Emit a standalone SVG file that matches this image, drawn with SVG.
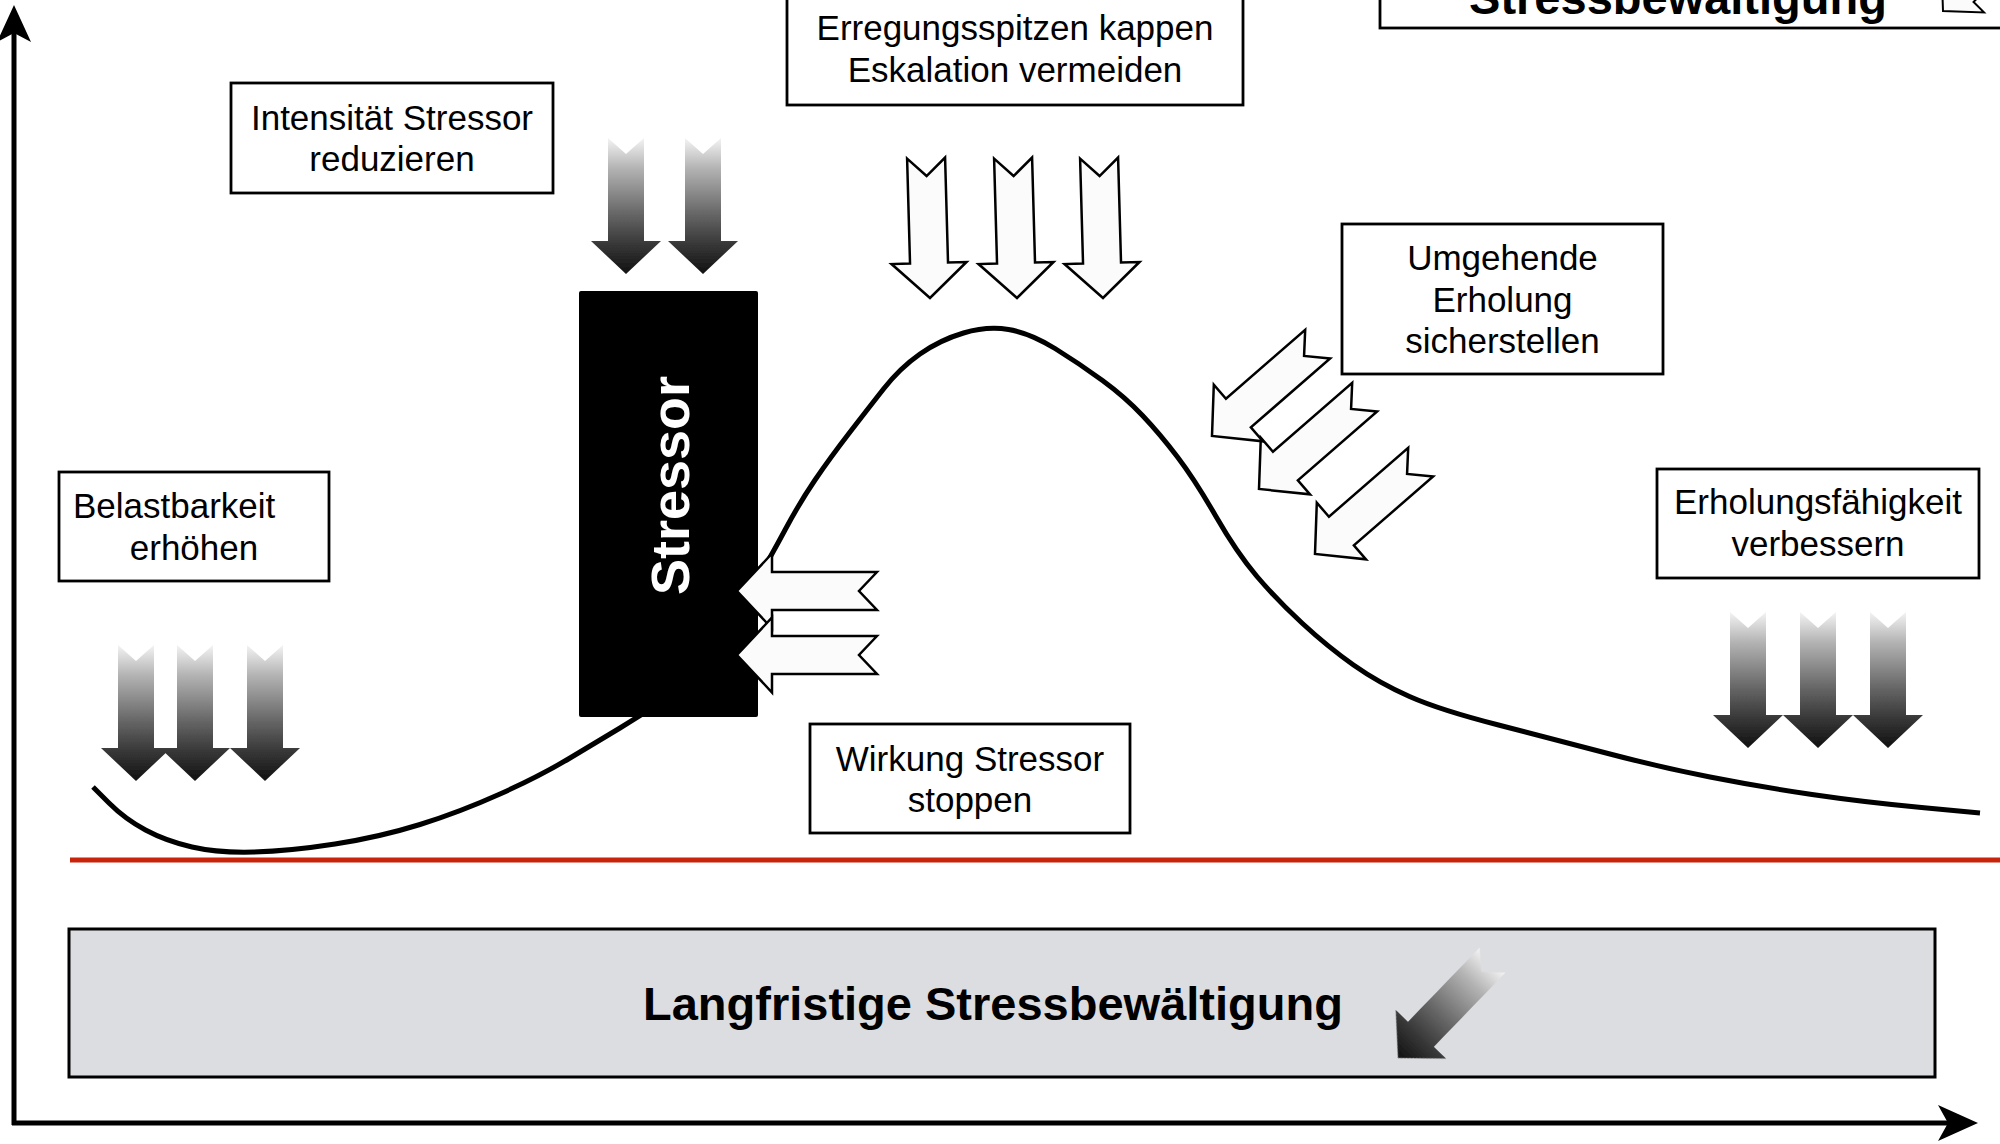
<svg xmlns="http://www.w3.org/2000/svg" width="2000" height="1144" viewBox="0 0 2000 1144">
<defs>
<style>
.box{fill:#fff;stroke:#000;stroke-width:2.8}
.lbl{font-family:"Liberation Sans",Arial,Helvetica,sans-serif;font-size:35px;fill:#000}
.c{text-anchor:middle}
.big{font-family:"Liberation Sans",Arial,Helvetica,sans-serif;font-size:47px;font-weight:bold;fill:#000}
.warr{fill:#fbfbfb;stroke:#000;stroke-width:2.5;stroke-linejoin:miter}
.garr{filter:url(#soft)}
.axis{stroke:#000;stroke-width:5;fill:none}
.curve{fill:none;stroke:#000;stroke-width:5;stroke-linejoin:round}
</style>
<linearGradient id="gd" x1="0" y1="0" x2="0" y2="1">
<stop offset="0" stop-color="#f4f4f4"/>
<stop offset="0.22" stop-color="#b4b4b4"/>
<stop offset="0.55" stop-color="#686868"/>
<stop offset="0.78" stop-color="#383838"/>
<stop offset="1" stop-color="#111"/>
</linearGradient>
<filter id="soft" x="-10%" y="-10%" width="120%" height="120%"><feGaussianBlur stdDeviation="0.7"/></filter>
<path id="ga" d="M-18,-136 L0,-120 L18,-136 L18,-33 L35,-33 L0,0 L-35,-33 L-18,-33 Z" fill="url(#gd)"/>
<path id="wa" d="M-19,-140 L0,-122 L19,-140 L19,-35 L37.5,-35 L0,0 L-37.5,-35 L-19,-35 Z"/>
</defs>

<rect width="2000" height="1144" fill="#fff"/>

<!-- connectors: axes, baseline, stress curve -->
<g id="connectors">
<line class="axis" x1="14" y1="30" x2="14" y2="1125"/>
<polygon points="14,5 31,42 14,33 -3,42" fill="#000"/>
<line class="axis" x1="12" y1="1123" x2="1955" y2="1123"/>
<polygon points="1978,1123 1938,1105 1948,1123 1938,1141" fill="#000"/>
<line x1="70" y1="860" x2="2000" y2="860" stroke="#c8240c" stroke-width="5"/>
<path class="curve" d="M93,787 L109,803 Q125,819 145.5,830 Q166,841 192,847 Q218,853 254,852 Q290,851 335,844 Q380,837 420,824.5 Q460,812 500,794 Q540,776 570,758 Q600,740 620,728 L665,700"/>
<path class="curve" d="M745,600 L757.5,579 Q770,558 785,530 Q800,502 815,480 Q830,458 848.5,434 Q867,410 883.5,389 Q900,368 920,354 Q940,340 963.5,333 Q987,326 1008.5,329.5 Q1030,333 1055,348.5 Q1080,364 1102.5,380.5 Q1125,397 1142.5,415.5 Q1160,434 1177.5,457 Q1195,480 1216,516.5 Q1237,553 1257,576.5 Q1277,600 1302.5,623.5 Q1328,647 1353.5,665 Q1379,683 1409.5,696.5 Q1440,710 1498.5,725 Q1557,740 1608,753.5 Q1659,767 1710,777 Q1761,787 1812,794.5 Q1863,802 1921.5,807.5 L1980,813"/>
</g>

<g id="top-box">
<rect class="box" x="1380" y="-60" width="640" height="88"/>
<text class="big c" x="1678" y="14">Stressbewältigung</text>
<use href="#wa" class="warr" transform="translate(1943,11) rotate(45) scale(0.8)"/>
</g>

<g id="stressor">
<rect x="579" y="291" width="179" height="426" rx="2" fill="#000"/>
<text class="big" transform="translate(689,485.5) rotate(-90)" text-anchor="middle" style="font-size:54px;fill:#fff">Stressor</text>
</g>

<g id="intensitaet">
<rect class="box" x="231" y="83" width="322" height="110"/>
<text class="lbl c" x="392" y="130">Intensität Stressor</text>
<text class="lbl c" x="392" y="171">reduzieren</text>
</g>
<g id="intensitaet-arrows" class="garr">
<use href="#ga" transform="translate(626,274)"/>
<use href="#ga" transform="translate(703,274)"/>
</g>

<g id="erregung">
<rect class="box" x="787" y="-10" width="456" height="115"/>
<text class="lbl c" x="1015" y="40">Erregungsspitzen kappen</text>
<text class="lbl c" x="1015" y="82">Eskalation vermeiden</text>
</g>
<g id="erregung-arrows">
<use href="#wa" class="warr" transform="translate(930,298) rotate(-1.6)"/>
<use href="#wa" class="warr" transform="translate(1017,298) rotate(-1.6)"/>
<use href="#wa" class="warr" transform="translate(1103,298) rotate(-1.6)"/>
</g>

<g id="umgehende">
<rect class="box" x="1342" y="224" width="321" height="150"/>
<text class="lbl c" x="1502.5" y="270">Umgehende</text>
<text class="lbl c" x="1502.5" y="312">Erholung</text>
<text class="lbl c" x="1502.5" y="353">sicherstellen</text>
</g>
<g id="umgehende-arrows">
<use href="#wa" class="warr" transform="translate(1315,554) rotate(49)"/>
<use href="#wa" class="warr" transform="translate(1259,489) rotate(49)"/>
<use href="#wa" class="warr" transform="translate(1212,436) rotate(49)"/>
</g>

<g id="wirkung-arrows">
<use href="#wa" class="warr" transform="translate(737,591) rotate(90)"/>
<use href="#wa" class="warr" transform="translate(737,655) rotate(90)"/>
</g>
<g id="wirkung">
<rect class="box" x="810" y="724" width="320" height="109"/>
<text class="lbl c" x="970" y="771">Wirkung Stressor</text>
<text class="lbl c" x="970" y="812">stoppen</text>
</g>

<g id="belastbarkeit">
<rect class="box" x="59" y="472" width="270" height="109"/>
<text class="lbl" x="73" y="518">Belastbarkeit</text>
<text class="lbl c" x="194" y="560">erhöhen</text>
</g>
<g id="belastbarkeit-arrows" class="garr">
<use href="#ga" transform="translate(136,781)"/>
<use href="#ga" transform="translate(195,781)"/>
<use href="#ga" transform="translate(265,781)"/>
</g>

<g id="erholungsfaehigkeit">
<rect class="box" x="1657" y="469" width="322" height="109"/>
<text class="lbl c" x="1818" y="514">Erholungsfähigkeit</text>
<text class="lbl c" x="1818" y="556">verbessern</text>
</g>
<g id="erholungsfaehigkeit-arrows" class="garr">
<use href="#ga" transform="translate(1748,748)"/>
<use href="#ga" transform="translate(1818,748)"/>
<use href="#ga" transform="translate(1888,748)"/>
</g>

<g id="langfristig">
<rect x="69" y="929" width="1866" height="148" fill="#dcdde0" stroke="#000" stroke-width="3"/>
<text class="big" x="643" y="1020">Langfristige Stressbewältigung</text>
<use href="#ga" class="garr" transform="translate(1398,1058) rotate(44)"/>
</g>
</svg>
